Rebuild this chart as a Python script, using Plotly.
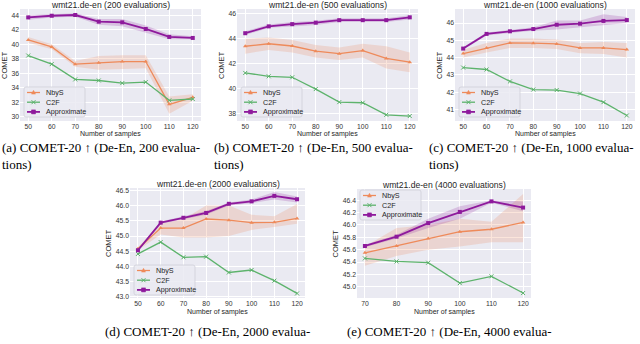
import plotly.graph_objects as go

samples = [50, 60, 70, 80, 90, 100, 110, 120]
samples_e = [70, 80, 90, 100, 110, 120]

# (a) 200 evaluations
approx_200 = [43.72, 43.95, 44.05, 43.13, 43.04, 42.12, 41.02, 40.88]
approx_200_lo = [43.4, 43.7, 43.8, 42.7, 42.5, 41.6, 40.7, 40.7]
approx_200_hi = [44.0, 44.2, 44.3, 43.5, 43.5, 42.6, 41.4, 41.1]
nbys_200 = [40.6, 39.64, 37.25, 37.44, 37.62, 37.62, 31.7, 32.67]
nbys_200_lo = [40.2, 39.3, 36.9, 36.5, 36.6, 36.7, 30.4, 32.2]
nbys_200_hi = [41.0, 40.0, 37.7, 38.4, 38.5, 38.5, 32.8, 33.1]
c2f_200 = [38.45, 37.26, 35.15, 35.0, 34.64, 34.78, 32.25, 32.44]

# (b) 500 evaluations
approx_500 = [44.45, 45.0, 45.18, 45.3, 45.5, 45.5, 45.5, 45.73]
approx_500_lo = [44.3, 44.88, 45.0, 45.12, 45.35, 45.35, 45.35, 45.55]
approx_500_hi = [44.6, 45.15, 45.35, 45.45, 45.65, 45.65, 45.65, 45.9]
nbys_500 = [43.4, 43.6, 43.42, 43.0, 42.8, 43.05, 42.42, 42.12]
nbys_500_lo = [42.8, 43.1, 42.9, 42.5, 42.3, 42.5, 41.6, 41.3]
nbys_500_hi = [44.0, 44.1, 43.9, 43.5, 43.3, 43.6, 43.4, 42.9]
c2f_500 = [41.25, 40.98, 40.9, 39.95, 38.9, 38.85, 37.88, 37.78]

# (c) 1000 evaluations
approx_1000 = [44.52, 45.37, 45.52, 45.65, 45.9, 45.96, 46.12, 46.17]
approx_1000_lo = [44.45, 45.27, 45.42, 45.55, 45.62, 45.75, 45.85, 46.0]
approx_1000_hi = [44.6, 45.45, 45.6, 45.75, 46.15, 46.15, 46.5, 46.35]
nbys_1000 = [44.23, 44.56, 44.85, 44.83, 44.79, 44.56, 44.56, 44.46]
nbys_1000_lo = [44.0, 44.3, 44.55, 44.55, 44.5, 44.25, 44.2, 44.0]
nbys_1000_hi = [44.45, 44.85, 45.1, 45.1, 45.05, 44.85, 44.9, 44.85]
c2f_1000 = [43.42, 43.31, 42.62, 42.15, 42.12, 41.92, 41.42, 40.65]

# (d) 2000 evaluations
approx_2000 = [44.53, 45.44, 45.6, 45.76, 46.06, 46.14, 46.32, 46.21]
approx_2000_lo = [44.5, 45.4, 45.55, 45.7, 46.0, 46.08, 46.2, 46.1]
approx_2000_hi = [44.56, 45.48, 45.65, 45.82, 46.1, 46.2, 46.45, 46.3]
nbys_2000 = [44.58, 45.26, 45.26, 45.56, 45.52, 45.44, 45.45, 45.58]
nbys_2000_lo = [44.53, 45.05, 44.95, 44.95, 45.0, 45.2, 45.3, 45.4]
nbys_2000_hi = [44.63, 45.4, 45.55, 46.0, 46.0, 45.7, 45.65, 46.05]
c2f_2000 = [44.41, 44.8, 44.3, 44.32, 43.8, 43.88, 43.53, 43.11]

# (e) 4000 evaluations
approx_4000 = [45.66, 45.81, 46.03, 46.21, 46.38, 46.28]
approx_4000_lo = [45.64, 45.78, 45.95, 46.1, 46.36, 46.22]
approx_4000_hi = [45.68, 45.84, 46.1, 46.3, 46.4, 46.38]
nbys_4000 = [45.55, 45.66, 45.78, 45.89, 45.93, 46.04]
nbys_4000_lo = [45.34, 45.5, 45.6, 45.65, 45.72, 45.72]
nbys_4000_hi = [45.65, 45.95, 46.0, 46.1, 46.05, 46.5]
c2f_4000 = [45.46, 45.41, 45.39, 45.06, 45.17, 44.9]

series_names = ["NbyS", "C2F", "Approximate"]
titles = ["wmt21.de-en (200 evaluations)", "wmt21.de-en (500 evaluations)",
          "wmt21.de-en (1000 evaluations)", "wmt21.de-en (2000 evaluations)",
          "wmt21.de-en (4000 evaluations)"]
captions = ["(a) COMET-20 \u2191 (De-En, 200 evalua-", "(b) COMET-20 \u2191 (De-En, 500 evalua-",
            "(c) COMET-20 \u2191 (De-En, 1000 evalua-", "(d) COMET-20 \u2191 (De-En, 2000 evalua-",
            "(e) COMET-20 \u2191 (De-En, 4000 evalua-"]
caption_tail = "tions)"
x_label = "Number of samples"
y_label = "COMET"
y_ticks = [[30, 32, 34, 36, 38, 40, 42, 44], [38, 40, 42, 44, 46], [41, 42, 43, 44, 45, 46],
           [43.0, 43.5, 44.0, 44.5, 45.0, 45.5, 46.0, 46.5],
           [45.0, 45.2, 45.4, 45.6, 45.8, 46.0, 46.2, 46.4]]
y_tick_text = [[str(v) for v in y_ticks[0]], [str(v) for v in y_ticks[1]],
               [str(v) for v in y_ticks[2]], ["%.1f" % v for v in y_ticks[3]],
               ["%.1f" % v for v in y_ticks[4]]]

W, H = 640, 344
# panel pixel boxes: left, right, top, bottom
boxes = [(20, 201, 9, 121), (237, 418, 9, 121), (455, 635, 9, 121),
         (130, 305, 188, 298), (357, 531, 189, 298)]
y_ranges = [[29.4, 44.88], [37.38, 46.4], [40.33, 46.81], [42.96, 46.58], [44.82, 46.58]]
x_ranges = [[46.5, 123.5]] * 4 + [[67.5, 122.5]]
ylabel_x = [4, 221, 439, 108, 335]
xlabel_y = [134, 134, 134, 312, 312]
legend_box = [(24, 87), (241, 87), (459, 87), (134, 265), (360, 190)]

panels = [
    (samples, approx_200, approx_200_lo, approx_200_hi, nbys_200, nbys_200_lo, nbys_200_hi, c2f_200),
    (samples, approx_500, approx_500_lo, approx_500_hi, nbys_500, nbys_500_lo, nbys_500_hi, c2f_500),
    (samples, approx_1000, approx_1000_lo, approx_1000_hi, nbys_1000, nbys_1000_lo, nbys_1000_hi, c2f_1000),
    (samples, approx_2000, approx_2000_lo, approx_2000_hi, nbys_2000, nbys_2000_lo, nbys_2000_hi, c2f_2000),
    (samples_e, approx_4000, approx_4000_lo, approx_4000_hi, nbys_4000, nbys_4000_lo, nbys_4000_hi, c2f_4000),
]

C_NBYS = "#EE8A5A"
C_C2F = "#5DB36C"
C_APX = "#8E1A9C"
BAND_NBYS = "rgba(238,138,90,0.22)"
BAND_APX = "rgba(142,26,156,0.2)"
FONT = "Liberation Sans, Arial, sans-serif"
SERIF = "Liberation Serif, Times New Roman, serif"


def px2x(p):
    return p / W


def px2y(p):
    return 1 - p / H


fig = go.Figure()
layout = dict(width=W, height=H, margin=dict(l=0, r=0, t=0, b=0, autoexpand=False),
              paper_bgcolor="white", plot_bgcolor="#EAEAF2", showlegend=False,
              font=dict(family=FONT, color="#262626"))
annotations = []
shapes = []

for i, (xs, ap, aplo, aphi, nb, nblo, nbhi, cf) in enumerate(panels):
    k = i + 1
    xa = "x" if k == 1 else "x%d" % k
    ya = "y" if k == 1 else "y%d" % k
    for lo, hi, col in [(nblo, nbhi, BAND_NBYS), (aplo, aphi, BAND_APX)]:
        fig.add_trace(go.Scatter(x=xs, y=lo, xaxis=xa, yaxis=ya, mode="lines",
                                 line=dict(width=0), hoverinfo="skip"))
        fig.add_trace(go.Scatter(x=xs, y=hi, xaxis=xa, yaxis=ya, mode="lines",
                                 line=dict(width=0), fill="tonexty", fillcolor=col,
                                 hoverinfo="skip"))
    fig.add_trace(go.Scatter(x=xs, y=nb, xaxis=xa, yaxis=ya, mode="lines+markers", name=series_names[0],
                             line=dict(color=C_NBYS, width=1.3),
                             marker=dict(symbol="triangle-up", size=4, color=C_NBYS)))
    fig.add_trace(go.Scatter(x=xs, y=cf, xaxis=xa, yaxis=ya, mode="lines+markers", name=series_names[1],
                             line=dict(color=C_C2F, width=1.3),
                             marker=dict(symbol="x-thin", size=4, color=C_C2F,
                                         line=dict(color=C_C2F, width=1))))
    fig.add_trace(go.Scatter(x=xs, y=ap, xaxis=xa, yaxis=ya, mode="lines+markers", name=series_names[2],
                             line=dict(color=C_APX, width=1.8),
                             marker=dict(symbol="square", size=4, color=C_APX)))

    l, r, t, b = boxes[i]
    xkey = "xaxis" if k == 1 else "xaxis%d" % k
    ykey = "yaxis" if k == 1 else "yaxis%d" % k
    layout[xkey] = dict(domain=[px2x(l), px2x(r)], range=x_ranges[i], anchor=ya,
                        tickvals=xs, showgrid=True, gridcolor="white", gridwidth=1,
                        zeroline=False, showline=False, ticks="", automargin=False,
                        tickfont=dict(size=6.8, color="#333333"))
    layout[ykey] = dict(domain=[px2y(b), px2y(t)], range=y_ranges[i], anchor=xa,
                        tickvals=y_ticks[i], ticktext=y_tick_text[i],
                        showgrid=True, gridcolor="white", gridwidth=1,
                        zeroline=False, showline=False, ticks="", automargin=False,
                        tickfont=dict(size=6.8, color="#333333"))
    # title
    annotations.append(dict(text=titles[i], x=px2x((l + r) / 2), y=px2y(t - 4),
                            xref="paper", yref="paper", xanchor="center", yanchor="middle",
                            borderpad=0, showarrow=False,
                            font=dict(size=8.6, family=FONT, color="#262626")))
    # axis titles
    annotations.append(dict(text=x_label, x=px2x((l + r) / 2), y=px2y(xlabel_y[i]),
                            xref="paper", yref="paper", xanchor="center", yanchor="middle",
                            showarrow=False, font=dict(size=7, family=FONT, color="#262626")))
    annotations.append(dict(text=y_label, x=px2x(ylabel_x[i]), y=px2y((t + b) / 2),
                            xref="paper", yref="paper", xanchor="center", yanchor="middle",
                            textangle=-90, showarrow=False,
                            font=dict(size=7.5, family=FONT, color="#262626")))
    # legend (drawn manually)
    bx, by = legend_box[i]
    bw, bh = 61, 30
    rr = 2
    x0, x1, y0, y1 = px2x(bx), px2x(bx + bw), px2y(by), px2y(by + bh)
    dx, dy = rr / W, rr / H
    path = ("M %f,%f L %f,%f Q %f,%f %f,%f L %f,%f Q %f,%f %f,%f L %f,%f Q %f,%f %f,%f "
            "L %f,%f Q %f,%f %f,%f Z") % (
        x0 + dx, y0, x1 - dx, y0, x1, y0, x1, y0 - dy, x1, y1 + dy, x1, y1, x1 - dx, y1,
        x0 + dx, y1, x0, y1, x0, y1 + dy, x0, y0 - dy, x0, y0, x0 + dx, y0)
    shapes.append(dict(type="path", path=path, xref="paper", yref="paper",
                       fillcolor="rgba(234,234,242,0.85)", line=dict(color="#CFCFD8", width=0.8)))
    cols = [C_NBYS, C_C2F, C_APX]
    widths = [1.3, 1.3, 1.8]
    for j in range(3):
        iy = by + 5.5 + j * 9.7
        lx0, lx1 = bx + 3, bx + 16
        shapes.append(dict(type="line", xref="paper", yref="paper",
                           x0=px2x(lx0), x1=px2x(lx1), y0=px2y(iy), y1=px2y(iy),
                           line=dict(color=cols[j], width=widths[j])))
        cx = (lx0 + lx1) / 2
        s = 2.0
        if j == 0:
            p = "M %f,%f L %f,%f L %f,%f Z" % (px2x(cx - s), px2y(iy + s * 0.8), px2x(cx + s),
                                               px2y(iy + s * 0.8), px2x(cx), px2y(iy - s * 1.1))
            shapes.append(dict(type="path", path=p, xref="paper", yref="paper",
                               fillcolor=cols[j], line=dict(color=cols[j], width=0.5)))
        elif j == 1:
            for sg in (1, -1):
                shapes.append(dict(type="line", xref="paper", yref="paper",
                                   x0=px2x(cx - s), x1=px2x(cx + s),
                                   y0=px2y(iy - s * sg), y1=px2y(iy + s * sg),
                                   line=dict(color=cols[j], width=1)))
        else:
            shapes.append(dict(type="rect", xref="paper", yref="paper",
                               x0=px2x(cx - s), x1=px2x(cx + s), y0=px2y(iy - s), y1=px2y(iy + s),
                               fillcolor=cols[j], line=dict(color=cols[j], width=0.5)))
        annotations.append(dict(text=series_names[j], x=px2x(bx + 20), y=px2y(iy),
                                xref="paper", yref="paper", xanchor="left", yanchor="middle",
                                showarrow=False, font=dict(size=7.2, family=FONT, color="#262626")))

cap_pos = [(0, 147), (212, 147), (427, 147), (103, 331), (345, 331)]
for i, (cx, cy) in enumerate(cap_pos):
    annotations.append(dict(text=captions[i], x=px2x(cx), y=px2y(cy), xref="paper", yref="paper",
                            xanchor="left", yanchor="middle", showarrow=False,
                            font=dict(size=13, family=SERIF, color="black")))
    annotations.append(dict(text=caption_tail, x=px2x(cx), y=px2y(cy + 17), xref="paper",
                            yref="paper", xanchor="left", yanchor="middle", showarrow=False,
                            font=dict(size=13, family=SERIF, color="black")))

layout["annotations"] = annotations
layout["shapes"] = shapes
fig.update_layout(**layout)
fig.write_html("out.html", config={"displayModeBar": False},
               post_script="document.body.style.margin='0px';document.body.style.overflow='hidden';")
